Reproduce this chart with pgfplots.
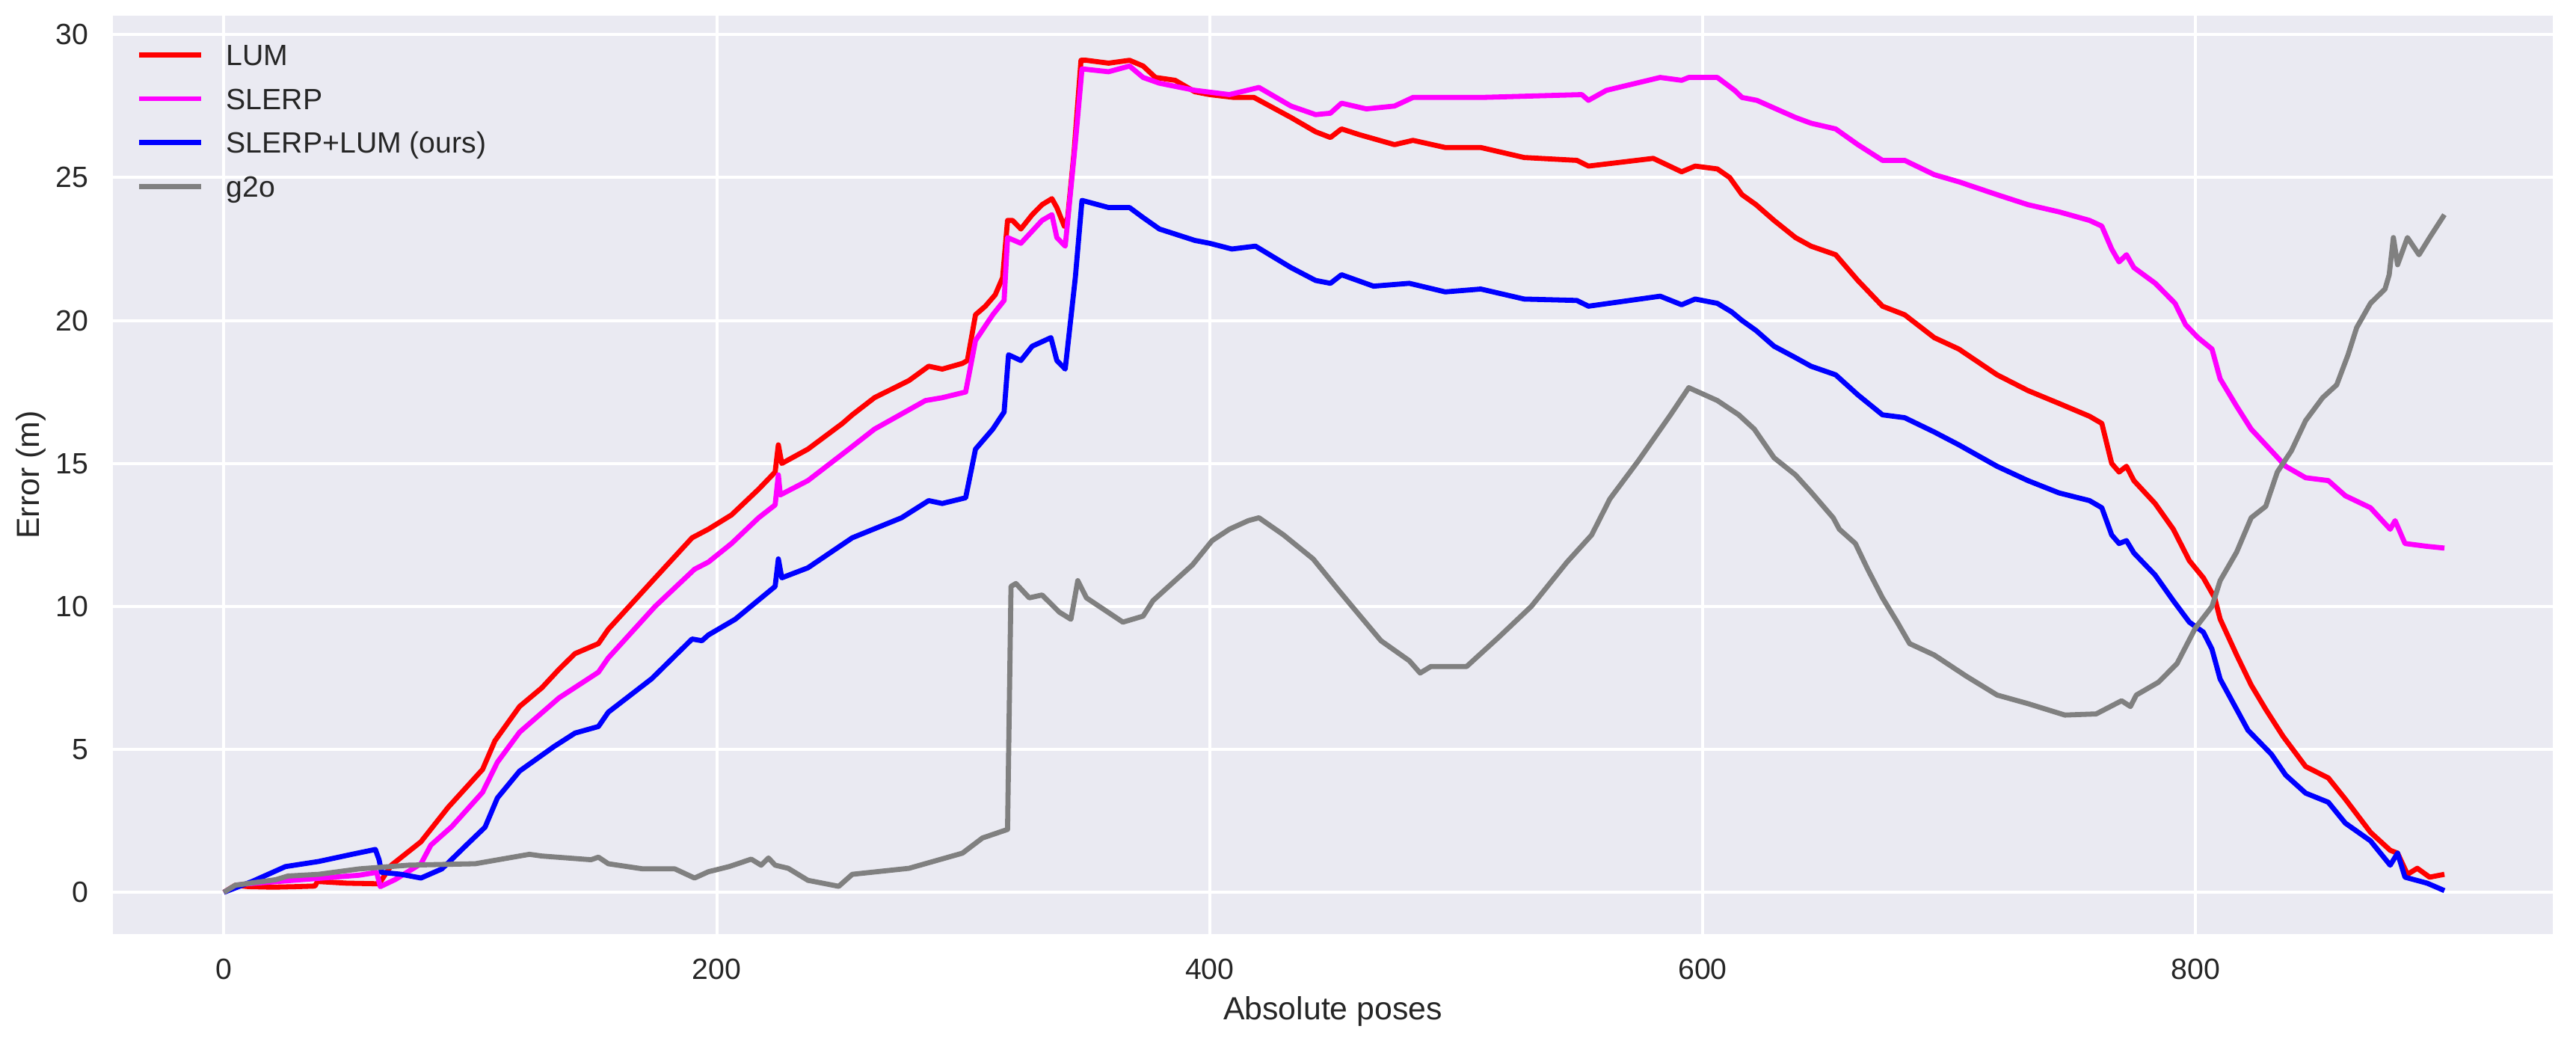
\documentclass[border=0pt]{standalone}
\usepackage{pgfplots}
\pgfplotsset{compat=1.18}
\usepackage{fontspec}
\setmainfont{Liberation Sans}
\definecolor{bgcol}{HTML}{EAEAF2}
\definecolor{txt}{HTML}{262626}
\definecolor{gline}{HTML}{808080}
\definecolor{cred}{HTML}{FF0000}
\definecolor{cmag}{HTML}{FF00FF}
\definecolor{cblue}{HTML}{0000FF}
\begin{document}
\begin{tikzpicture}
\begin{axis}[
  name=ax,
  scale only axis,
  width=815.75pt, height=307pt,
  xmin=-45, xmax=945, ymin=-1.46, ymax=30.66,
  axis background/.style={fill=bgcol},
  axis line style={draw=none},
  major tick length=0pt,
  grid=major,
  major grid style={white, line width=1pt},
  xtick={0,200,400,600,800},
  ytick={0,5,10,15,20,25,30},
  /pgf/number format/assume math mode=true,
  tick label style={font=\fontsize{9.8}{11}\selectfont, text=txt},
  xticklabel style={anchor=north, inner sep=0pt, yshift=-8pt},
  yticklabel style={anchor=east, inner sep=0pt, xshift=-8pt},
  xlabel={Absolute poses},
  ylabel={Error (m)},
  label style={font=\fontsize{10.7}{12}\selectfont, text=txt},
  xlabel style={at={(axis description cs:0.5,0)}, anchor=center, yshift=-25.75pt},
  ylabel style={at={(axis description cs:0,0.5)}, anchor=center, yshift=27.5pt},
  every axis plot/.append style={line width=1.7pt, line join=round},
]
% LUM
\addplot[color=cred] coordinates {
(0,0) (4.7,0.25) (10,0.2) (20,0.18) (30,0.2) (37,0.22) (38,0.38) (50,0.32) (62,0.3) (63,0.3)
(68,0.95) (80,1.77) (91,2.97) (105,4.3) (110,5.3) (120,6.5) (129,7.15) (136,7.8) (142.5,8.35)
(152,8.7) (156,9.2) (174,10.9) (190,12.4) (196.6,12.7) (206,13.2) (217,14.1) (223.7,14.7)
(225,15.65) (226.4,15.0) (237,15.5) (251,16.4) (255,16.7) (264,17.3) (278,17.9) (286,18.4)
(291.5,18.3) (299.7,18.5) (301.7,18.6) (305,20.2) (309,20.5) (313,20.9) (316,21.5) (318,23.5)
(320,23.5) (323.4,23.2) (328,23.7) (332,24.05) (336,24.26) (338,23.95) (341,23.3) (342.4,23.6)
(345,25.9) (347.8,29.1) (350,29.1) (359,29.0) (367.5,29.1) (373,28.9) (378,28.5) (386,28.4)
(394,28.0) (400,27.9) (410,27.8) (418,27.8) (433,27.1) (443,26.6) (449,26.4) (453.5,26.7)
(460.7,26.5) (475,26.15) (482.5,26.3) (495.6,26.05) (510,26.05) (527.6,25.7) (549,25.6)
(553.7,25.4) (580,25.67) (591.5,25.2) (597,25.4) (606,25.3) (611,25.0) (616,24.4) (621.7,24.05)
(629,23.5) (637.7,22.9) (644,22.6) (654,22.3) (663,21.4) (673,20.5) (682,20.2) (694,19.4)
(704,19.0) (719.5,18.1) (732,17.55) (744.6,17.1) (757,16.65) (762,16.4) (766,15.0) (769,14.7)
(772,14.9) (775,14.4) (783.6,13.6) (791,12.7) (797.5,11.6) (803.2,11.0) (807.8,10.3) (810,9.56)
(816.7,8.3) (822.6,7.25) (828.5,6.4) (835.5,5.46) (844.7,4.4) (853.9,4.0) (860.8,3.26) (871,2.1)
(879,1.47) (882,1.37) (886,0.63) (890,0.84) (895,0.53) (901,0.63)
};
% SLERP
\addplot[color=cmag] coordinates {
(0,0) (5,0.25) (10,0.3) (25,0.4) (40,0.5) (55,0.6) (62,0.7) (63.5,0.2) (69.6,0.45) (80,1.0)
(84,1.65) (92.5,2.3) (105,3.5) (111,4.55) (120,5.6) (136,6.8) (152,7.7) (156,8.2) (175,10.0)
(191,11.3) (196.6,11.55) (206,12.2) (217,13.1) (223.7,13.55) (225,14.6) (225.8,13.9) (237,14.4)
(253.6,15.5) (264,16.2) (284.7,17.2) (291.5,17.3) (301,17.5) (305,19.3) (312,20.2) (316.6,20.7)
(318,22.9) (323.4,22.7) (332,23.5) (336,23.7) (338,22.9) (341.4,22.6) (345.5,26.2) (348.2,28.8)
(359,28.7) (367.5,28.9) (373,28.5) (379.6,28.3) (394,28.05) (408,27.9) (420,28.15) (433,27.5)
(443,27.2) (449,27.25) (453.5,27.6) (463.6,27.4) (475,27.5) (482.5,27.8) (510,27.8) (551,27.9)
(553.7,27.7) (561,28.05) (582.8,28.5) (591.5,28.4) (594.4,28.5) (606,28.5) (613,28.05) (616,27.8)
(622,27.7) (637.7,27.1) (644,26.9) (654,26.7) (663,26.15) (673,25.6) (682,25.6) (694,25.1)
(704,24.85) (719.5,24.4) (732,24.05) (744.6,23.8) (757,23.5) (762,23.3) (766,22.5) (769,22.05)
(772,22.3) (775,21.85) (783.7,21.3) (791.7,20.6) (796,19.85) (801,19.4) (806.7,19.0) (810,17.96)
(816.7,17.0) (822.6,16.2) (830.8,15.44) (836.6,14.9) (844.7,14.5) (853.9,14.4) (860.8,13.87)
(871,13.45) (879,12.7) (881,13.0) (885,12.2) (894,12.1) (901,12.04)
};
% SLERP+LUM
\addplot[color=cblue] coordinates {
(0,0) (11.5,0.38) (25,0.9) (38.5,1.08) (52,1.33) (61.5,1.5) (63,1.14) (64,0.7) (72,0.63) (80,0.5)
(88.5,0.82) (99,1.7) (106,2.28) (111,3.3) (120,4.24) (134,5.1) (142.5,5.57) (152,5.8) (156,6.3)
(173.6,7.47) (190,8.86) (194,8.8) (196.6,9.0) (207.5,9.55) (223.7,10.7) (225,11.66) (226.4,11.0)
(237,11.35) (255,12.4) (275,13.1) (286,13.7) (291.5,13.6) (301,13.8) (305,15.5) (312,16.2)
(316.6,16.8) (318.4,18.8) (323.4,18.6) (328,19.1) (335.6,19.4) (338,18.6) (341.4,18.3) (345.5,21.5)
(348.2,24.2) (359,23.95) (367.5,23.95) (373,23.6) (379.6,23.2) (394,22.8) (400,22.7) (409,22.5)
(418.6,22.6) (433,21.85) (443,21.4) (449,21.3) (453.5,21.6) (466.5,21.2) (481,21.3) (495.6,21.0)
(510,21.1) (527.6,20.75) (549,20.7) (553.7,20.5) (582.8,20.85) (591.5,20.55) (597,20.75) (606,20.6)
(611.8,20.3) (616,20.0) (621.7,19.65) (629,19.1) (637.7,18.7) (644,18.4) (654,18.1) (663,17.4)
(673,16.7) (682,16.6) (694,16.1) (704,15.65) (719.5,14.9) (732,14.4) (744.6,13.97) (757,13.7)
(762,13.45) (766,12.5) (769,12.2) (772,12.3) (775,11.87) (783.6,11.1) (791,10.2) (797.5,9.45)
(803.2,9.1) (806.7,8.5) (810,7.46) (816.7,6.4) (821.3,5.67) (830.8,4.83) (836.6,4.1) (844.7,3.47)
(853.9,3.15) (860.8,2.42) (871,1.8) (879,0.95) (882,1.37) (885,0.53) (894,0.32) (901,0.06)
};
% g2o
\addplot[color=gline] coordinates {
(0,0) (4.7,0.25) (21,0.44) (26,0.57) (38.5,0.63) (55,0.82) (75,0.95) (102,1.0) (124,1.33)
(129,1.27) (149,1.14) (152,1.23) (156,1.0) (170,0.82) (183,0.82) (191,0.5) (196.6,0.72) (205,0.9)
(214,1.16) (218,0.95) (221,1.2) (223.7,0.95) (229,0.84) (237,0.42) (249.5,0.21) (255,0.63)
(278,0.84) (299.7,1.37) (307.8,1.9) (318,2.2) (319.4,10.7) (321.4,10.8) (326.8,10.3) (332,10.4)
(339,9.8) (343.7,9.55) (346.5,10.9) (350,10.3) (364.8,9.45) (373,9.66) (377,10.2) (393,11.45)
(401,12.3) (408,12.7) (415.7,13.0) (420,13.1) (430,12.5) (442,11.66) (452,10.6) (457.8,10.0)
(469.5,8.8) (481,8.1) (485.4,7.67) (489.8,7.9) (504.3,7.9) (517.4,8.93) (530.5,10.0) (545,11.55)
(555,12.5) (562.4,13.76) (574,15.1) (587,16.7) (594.4,17.65) (606,17.2) (614.7,16.7) (621,16.2)
(629,15.2) (637.7,14.6) (644,14.0) (653,13.1) (655.5,12.7) (662,12.2) (667,11.3) (673,10.3)
(679,9.45) (684,8.7) (694,8.3) (707,7.56) (719.5,6.9) (732,6.6) (747,6.2) (759.7,6.24) (770,6.7)
(773.6,6.5) (776,6.9) (785,7.35) (792.5,8.0) (800,9.25) (806.7,10.0) (810,10.9) (816.7,11.9)
(822.6,13.1) (828.5,13.5) (833.2,14.7) (838.9,15.44) (844.7,16.5) (851.6,17.3) (857.3,17.75)
(861.9,18.8) (865.4,19.75) (871,20.6) (876.9,21.1) (878.6,21.6) (880.3,22.9) (882,21.95)
(886,22.9) (890.7,22.3) (895,22.9) (901,23.7)
};
\end{axis}
% legend (no frame, as in the reference)
\foreach \i/\c/\t in {0/cred/LUM,1/cmag/SLERP,2/cblue/SLERP+LUM (ours),3/gline/g2o}{
  \draw[\c, line width=1.7pt] ([shift={(8.75pt,-13.1pt-\i*14.67pt)}]ax.north west) -- ++(20.75pt,0);
  \node[anchor=base west, inner sep=0pt, text=txt, font=\fontsize{9.8}{11}\selectfont]
    at ([shift={(37.75pt,-13.1pt-\i*14.67pt-3.5pt)}]ax.north west) {\t};
}
\pgfresetboundingbox
\path[use as bounding box] ([shift={(-37.75pt,-36.5pt)}]ax.south west) rectangle ([shift={(7.75pt,5.25pt)}]ax.north east);
\end{tikzpicture}
\end{document}
